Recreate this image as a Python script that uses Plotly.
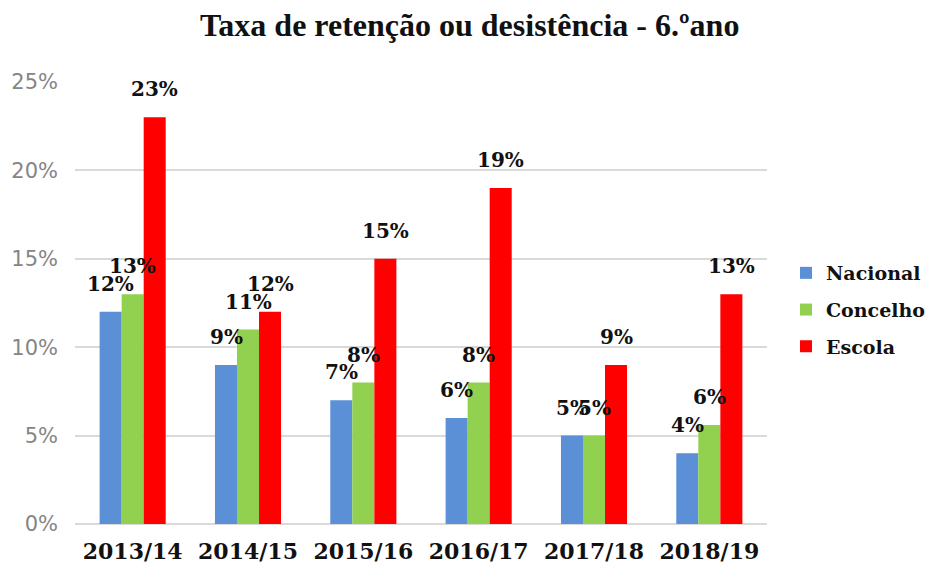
import plotly.graph_objects as go

categories = ["2013/14", "2014/15", "2015/16", "2016/17", "2017/18", "2018/19"]
series_names = ["Nacional", "Concelho", "Escola"]
nacional = [12, 9, 7, 6, 5, 4]
concelho = [13, 11, 8, 8, 5, 5.6]
escola = [23, 12, 15, 19, 9, 13]
colors = ["#5B8FD6", "#92D050", "#FF0000"]
y_ticks = [0, 5, 10, 15, 20, 25]
y_ticklabels = [f"{t}%" for t in y_ticks]

SERIF = "DejaVu Serif, Liberation Serif, serif"

fig = go.Figure()
all_series = [nacional, concelho, escola]
for name, vals, col in zip(series_names, all_series, colors):
    fig.add_trace(go.Bar(x=categories, y=vals, name=f"<b>{name}</b>", marker_color=col,
                         marker_line_width=0, legendgroup=name))

# data labels above bars
offsets = [-22, 0, 22]
for vals, off in zip(all_series, offsets):
    for c, v in zip(categories, vals):
        fig.add_annotation(x=c, y=v, xref="x", yref="y", text=f"<b>{round(v)}%</b>",
                           showarrow=False, xshift=off, yshift=28,
                           yanchor="middle",
                           font=dict(family=SERIF, size=20, color="#111111"))

fig.update_layout(
    width=930, height=565,
    paper_bgcolor="white", plot_bgcolor="white",
    margin=dict(l=75, r=163, t=82, b=41),
    barmode="group", bargap=0.427, bargroupgap=0,
    title=dict(text="<b>Taxa de retenção ou desistência - 6.ºano</b>",
               x=0.505, xref="container", y=1 - 25 / 565, yref="container",
               xanchor="center", yanchor="middle",
               font=dict(family="Liberation Serif, serif", size=32, color="#111111")),
    legend=dict(xref="container", x=1.0, xanchor="right",
                yref="container", y=1 - 310 / 565, yanchor="middle",
                font=dict(family=SERIF, size=19, color="#111111"),
                bgcolor="rgba(0,0,0,0)", traceorder="grouped", tracegroupgap=9),
    showlegend=True,
)
fig.update_xaxes(showgrid=False, showline=False, ticks="", ticklabelstandoff=12,
                 automargin=False,
                 tickfont=dict(family=SERIF, size=22, color="#111111"),
                 tickprefix="<b>", ticksuffix="</b>")
fig.update_yaxes(range=[0, 25], tickvals=y_ticks, ticktext=y_ticklabels,
                 showgrid=True, gridcolor="#D9D9D9", gridwidth=2,
                 zeroline=True, zerolinecolor="#D9D9D9", zerolinewidth=2,
                 showline=False, ticks="", ticklabelstandoff=16, automargin=False,
                 tickfont=dict(family="DejaVu Sans, sans-serif", size=21, color="#858585"))

fig.write_html("out.html", config={"displayModeBar": False},
               post_script="document.body.style.margin='0';")
